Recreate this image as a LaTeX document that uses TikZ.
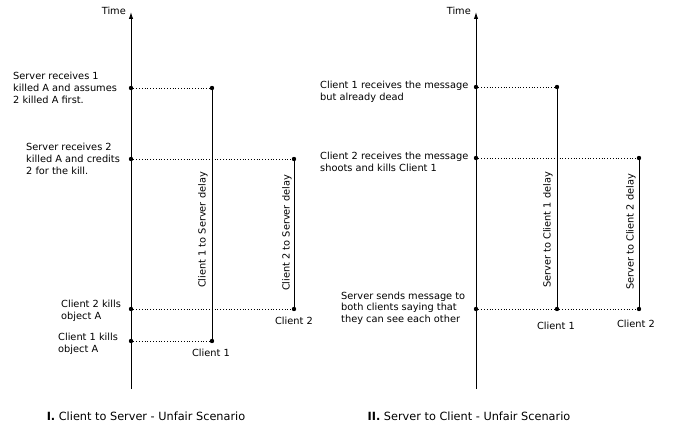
\documentclass[tikz,border=0pt]{standalone}
\usepackage{fontspec}
\setmainfont{DejaVu Sans}
\usetikzlibrary{arrows.meta}

\begin{document}
\begin{tikzpicture}[x=1pt,y=-1pt,
  timeline/.style={line width=.9pt,-{Latex[length=7pt,width=4.4pt]}},
  msgline/.style={line width=.8pt,dotted},
  delayline/.style={line width=.9pt},
  evdot/.style={circle,fill,inner sep=0pt,minimum size=4.4pt},
  note/.style={font=\fontsize{9.8}{11.7}\selectfont,align=left,inner sep=0pt},
  caption/.style={font=\fontsize{11.3}{13}\selectfont,inner sep=0pt}]
  \useasboundingbox (0,0) rectangle (673,428);
  % server time axes
  \foreach \s/\x in {l/131,r/476} {
    \coordinate (bot\s) at (\x,389);
    \coordinate (top\s) at (\x,12);
    \draw[timeline] (bot\s) -- (top\s);
    \node[note,anchor=east] (time\s) at (\x-5,11) {Time};
  }
  % I: client to server
  \foreach \n/\x/\y in {a1/131/88,a2/131/159,a3/131/309,a4/131/341,
                        b1/212/88,b2/294/159,b3/294/309,b4/212/341} {
    \node[evdot] (\n) at (\x,\y) {};
  }
  \draw[msgline] (a1) -- (b1);
  \draw[msgline] (a2) -- (b2);
  \draw[msgline] (a3) -- (b3);
  \draw[msgline] (a4) -- (b4);
  \draw[delayline] (b1) -- (b4);
  \draw[delayline] (b2) -- (b3);
  \node[note,rotate=90] (dly1) at (203,230) {Client 1 to Server delay};
  \node[note,rotate=90] (dly2) at (287,233) {Client 2 to Server delay};
  \node[note] (cl1) at (211,353) {Client 1};
  \node[note] (cl2) at (294,321) {Client 2};
  \node[note,anchor=west] (srv1) at (13,88) {Server receives 1\\killed A and assumes\\2 killed A first.};
  \node[note,anchor=west] (srv2) at (26,159) {Server receives 2\\killed A and credits\\2 for the kill.};
  \node[note,anchor=west] (kill2) at (61,311) {Client 2 kills\\object A};
  \node[note,anchor=west] (kill1) at (58,344) {Client 1 kills\\object A};
  \node[caption] (capl) at (146,416) {\textbf{I.} Client to Server - Unfair Scenario};
  % II: server to client
  \foreach \n/\x/\y in {c1/476/87,c2/476/158,c3/476/309,
                        d1/557/87,d2/639/158,d3/557/309,d4/639/309} {
    \node[evdot] (\n) at (\x,\y) {};
  }
  \draw[msgline] (c1) -- (d1);
  \draw[msgline] (c2) -- (d2);
  \draw[msgline] (c3) -- (d3) -- (d4);
  \draw[delayline] (d1) -- (d3);
  \draw[delayline] (d2) -- (d4);
  \node[note,rotate=90] (dly3) at (548,230) {Server to Client 1 delay};
  \node[note,rotate=90] (dly4) at (631,232) {Server to Client 2 delay};
  \node[note] (cl3) at (556,326) {Client 1};
  \node[note] (cl4) at (636,324) {Client 2};
  \node[note,anchor=west] (rcv1) at (320,92) {Client 1 receives the message\\but already dead};
  \node[note,anchor=west] (rcv2) at (320,162) {Client 2 receives the message\\shoots and kills Client 1};
  \node[note,anchor=west] (send) at (341,308) {Server sends message to\\both clients saying that\\they can see each other};
  \node[caption] (capr) at (469,416) {\textbf{II.} Server to Client - Unfair Scenario};
\end{tikzpicture}
\end{document}
